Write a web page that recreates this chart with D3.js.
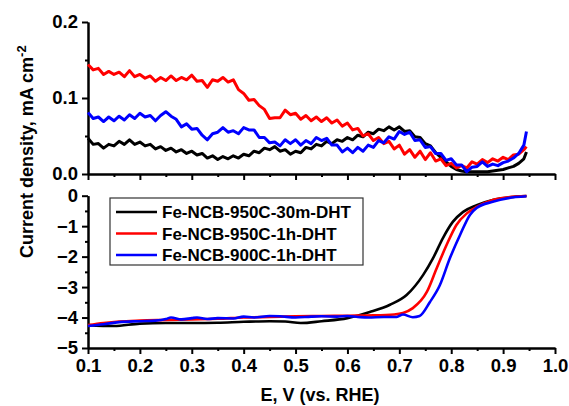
<!DOCTYPE html>
<html>
<head>
<meta charset="utf-8">
<script src="https://cdn.jsdelivr.net/npm/d3@7"></script>
<style>
  body { margin: 0; background: #fff; }
  svg text { font-family: "Liberation Sans", Arial, sans-serif; font-weight: bold; fill: #000; }
  .axis path, .axis line { stroke: #000; stroke-width: 2; }
  .axis text { font-size: 18.5px; }
</style>
</head>
<body>
<div class="chart"></div>
<script>
var svgWidth = 569;
var svgHeight = 406;

// potential grid for the top (noisy) panel
var eTop = [0.10,0.11,0.12,0.13,0.14,0.15,0.16,0.17,0.18,0.19,0.20,0.21,0.22,0.23,0.24,0.25,0.26,0.27,0.28,0.29,
  0.30,0.31,0.32,0.33,0.34,0.35,0.36,0.37,0.38,0.39,0.40,0.41,0.42,0.43,0.44,0.45,0.46,0.47,0.48,0.49,
  0.50,0.51,0.52,0.53,0.54,0.55,0.56,0.57,0.58,0.59,0.60,0.61,0.62,0.63,0.64,0.65,0.66,0.67,0.68,0.69,
  0.70,0.71,0.72,0.73,0.74,0.75,0.76,0.77,0.78,0.79,0.80,0.81,0.82,0.83,0.84,0.85,0.86,0.87,0.88,0.89,
  0.90,0.91,0.92,0.93,0.94,0.945];

var topBlack = [0.047,0.039,0.040,0.034,0.039,0.037,0.043,0.039,0.045,0.039,0.042,0.037,0.039,0.033,0.036,0.031,0.034,0.029,0.032,0.027,
  0.030,0.025,0.027,0.021,0.024,0.019,0.023,0.020,0.024,0.021,0.026,0.024,0.030,0.028,0.034,0.032,0.036,0.030,0.032,0.026,
  0.030,0.028,0.035,0.033,0.039,0.037,0.043,0.040,0.045,0.043,0.048,0.045,0.051,0.049,0.055,0.053,0.059,0.057,0.062,0.058,
  0.062,0.056,0.057,0.049,0.048,0.040,0.037,0.028,0.022,0.016,0.010,0.006,0.004,0.003,0.003,0.003,0.003,0.003,0.004,0.005,
  0.006,0.008,0.010,0.014,0.020,0.029];

var topRed = [0.144,0.137,0.139,0.131,0.135,0.131,0.134,0.128,0.136,0.128,0.131,0.126,0.129,0.122,0.127,0.123,0.129,0.123,0.127,0.124,
  0.130,0.122,0.123,0.114,0.124,0.122,0.127,0.121,0.124,0.111,0.106,0.097,0.098,0.090,0.085,0.073,0.074,0.074,0.084,0.078,
  0.080,0.072,0.077,0.070,0.075,0.069,0.074,0.067,0.071,0.063,0.067,0.058,0.060,0.050,0.053,0.044,0.048,0.040,0.043,0.033,
  0.038,0.026,0.032,0.022,0.030,0.019,0.028,0.017,0.020,0.011,0.014,0.008,0.011,0.008,0.016,0.013,0.019,0.015,0.020,0.017,
  0.022,0.019,0.025,0.026,0.032,0.036];

var topBlue = [0.081,0.073,0.075,0.069,0.075,0.070,0.076,0.071,0.078,0.073,0.080,0.075,0.077,0.070,0.077,0.082,0.076,0.072,0.062,0.066,
  0.059,0.060,0.051,0.045,0.053,0.055,0.061,0.055,0.057,0.053,0.061,0.058,0.058,0.048,0.048,0.041,0.042,0.037,0.045,0.040,
  0.045,0.038,0.044,0.040,0.048,0.044,0.047,0.038,0.038,0.029,0.034,0.028,0.035,0.030,0.038,0.035,0.044,0.041,0.049,0.046,
  0.056,0.052,0.055,0.044,0.045,0.035,0.036,0.027,0.027,0.018,0.020,0.012,0.012,0.003,0.009,0.010,0.016,0.010,0.013,0.011,
  0.015,0.017,0.021,0.027,0.038,0.056];

// bottom panel (LSV) curves
var eBlack = [0.10,0.15,0.20,0.25,0.30,0.35,0.40,0.45,0.48,0.51,0.55,0.60,0.643,0.682,0.714,0.746,0.765,0.784,0.803,0.823,0.849,0.88,0.913,0.945];
var jBlack = [-4.25,-4.28,-4.20,-4.18,-4.18,-4.17,-4.14,-4.12,-4.13,-4.18,-4.12,-4.02,-3.82,-3.58,-3.26,-2.60,-2.05,-1.39,-0.86,-0.53,-0.31,-0.14,-0.05,-0.01];

var eRed = [0.10,0.13,0.16,0.20,0.25,0.30,0.35,0.40,0.45,0.50,0.55,0.60,0.65,0.69,0.707,0.726,0.753,0.772,0.791,0.81,0.83,0.849,0.88,0.91,0.945];
var jRed = [-4.25,-4.18,-4.13,-4.10,-4.08,-4.06,-4.04,-4.00,-3.98,-3.96,-3.95,-3.94,-3.93,-3.90,-3.85,-3.69,-3.16,-2.38,-1.62,-0.96,-0.58,-0.37,-0.14,-0.05,-0.01];

var eBlue = [0.10,0.13,0.16,0.20,0.23,0.25,0.26,0.28,0.30,0.31,0.33,0.35,0.38,0.40,0.42,0.45,0.47,0.50,0.53,0.55,0.58,0.60,0.62,0.64,0.67,0.695,0.707,0.726,0.739,0.759,0.778,0.797,0.817,0.836,0.849,0.88,0.91,0.945];
var jBlue = [-4.28,-4.22,-4.15,-4.12,-4.10,-4.05,-4.00,-4.06,-4.02,-4.00,-4.05,-4.02,-4.03,-3.97,-4.00,-3.95,-3.96,-4.00,-3.97,-3.96,-3.97,-3.95,-3.98,-4.00,-3.98,-3.98,-3.90,-3.99,-3.95,-3.49,-2.94,-2.07,-1.29,-0.63,-0.40,-0.20,-0.08,-0.02];

var seriesNames = ["Fe-NCB-950C-30m-DHT", "Fe-NCB-950C-1h-DHT", "Fe-NCB-900C-1h-DHT"];
var seriesColors = ["#000000", "#ff0000", "#0000ff"];

var xTicks = [0.1, 0.2, 0.3, 0.4, 0.5, 0.6, 0.7, 0.8, 0.9, 1.0];
var topTicks = [0.0, 0.1, 0.2];
var bottomTicks = [0, -1, -2, -3, -4, -5];

var svg = d3.select(".chart")
  .append("svg")
  .attr("width", svgWidth)
  .attr("height", svgHeight);

var xScale = d3.scaleLinear().domain([0.1, 1.0]).range([88, 555]);
var yTop = d3.scaleLinear().domain([0, 0.2]).range([174, 22]);
var yBot = d3.scaleLinear().domain([-5, 0]).range([348, 195.7]);

// minor ticks are drawn as a second axis with no labels
function minorAxis(axisFn, scale, vals) {
  return axisFn(scale).tickValues(vals).tickSize(3).tickSizeOuter(0).tickFormat("");
}

var xMinor = [0.15, 0.25, 0.35, 0.45, 0.55, 0.65, 0.75, 0.85, 0.95];

// top panel axes
svg.append("g").attr("class", "axis")
  .attr("transform", "translate(0,174)")
  .call(d3.axisBottom(xScale).tickValues(xTicks).tickSize(6).tickSizeOuter(0).tickFormat(""));
svg.append("g").attr("class", "axis")
  .attr("transform", "translate(0,174)")
  .call(minorAxis(d3.axisBottom, xScale, xMinor));
svg.append("g").attr("class", "axis")
  .attr("transform", "translate(88,0)")
  .call(d3.axisLeft(yTop).tickValues(topTicks).tickSize(6).tickSizeOuter(0).tickPadding(4).tickFormat(d3.format(".1f")));
svg.append("g").attr("class", "axis")
  .attr("transform", "translate(88,0)")
  .call(minorAxis(d3.axisLeft, yTop, [0.05, 0.15]));

// bottom panel axes
svg.append("g").attr("class", "axis")
  .attr("transform", "translate(0,348)")
  .call(d3.axisBottom(xScale).tickValues(xTicks).tickSize(6).tickSizeOuter(0).tickPadding(5).tickFormat(d3.format(".1f")));
svg.append("g").attr("class", "axis")
  .attr("transform", "translate(0,348)")
  .call(minorAxis(d3.axisBottom, xScale, xMinor));
svg.append("g").attr("class", "axis")
  .attr("transform", "translate(88,0)")
  .call(d3.axisLeft(yBot).tickValues(bottomTicks).tickSize(6).tickSizeOuter(0).tickPadding(4).tickFormat(d3.format("d")));
svg.append("g").attr("class", "axis")
  .attr("transform", "translate(88,0)")
  .call(minorAxis(d3.axisLeft, yBot, [-0.5, -1.5, -2.5, -3.5, -4.5]));

// top panel lines
var topLine = d3.line()
  .x(function(d) { return xScale(d[0]); })
  .y(function(d) { return yTop(d[1]); });

[topBlack, topRed, topBlue].forEach(function(vals, i) {
  svg.append("path")
    .datum(eTop.map(function(e, k) { return [e, vals[k]]; }))
    .attr("fill", "none")
    .attr("stroke", seriesColors[i])
    .attr("stroke-width", 3)
    .attr("stroke-linejoin", "round")
    .attr("d", topLine);
});

// bottom panel lines
var botLine = d3.line()
  .curve(d3.curveMonotoneX)
  .x(function(d) { return xScale(d[0]); })
  .y(function(d) { return yBot(d[1]); });

[[eBlack, jBlack], [eRed, jRed], [eBlue, jBlue]].forEach(function(s, i) {
  svg.append("path")
    .datum(s[0].map(function(e, k) { return [e, s[1][k]]; }))
    .attr("fill", "none")
    .attr("stroke", seriesColors[i])
    .attr("stroke-width", 2.6)
    .attr("d", botLine);
});

// legend
var legend = svg.append("g");
legend.append("rect")
  .attr("x", 110).attr("y", 198)
  .attr("width", 253).attr("height", 67)
  .attr("fill", "#fff")
  .attr("stroke", "#333")
  .attr("stroke-width", 1.2);

seriesNames.forEach(function(name, i) {
  var yy = 212 + i * 21.5;
  legend.append("line")
    .attr("x1", 116).attr("x2", 157)
    .attr("y1", yy).attr("y2", yy)
    .attr("stroke", seriesColors[i])
    .attr("stroke-width", 2.6);
  legend.append("text")
    .attr("x", 162).attr("y", yy)
    .attr("dy", "0.36em")
    .style("font-size", "17px")
    .text(name);
});

// axis titles
var yTitle = svg.append("text")
  .attr("transform", "translate(33,258) rotate(-90)")
  .style("font-size", "18px");
yTitle.append("tspan").text("Current density, mA cm");
yTitle.append("tspan").attr("dy", "-0.55em").style("font-size", "13px").text("-2");

svg.append("text")
  .attr("x", 320).attr("y", 401)
  .attr("text-anchor", "middle")
  .style("font-size", "18px")
  .text("E, V (vs. RHE)");
</script>
</body>
</html>
